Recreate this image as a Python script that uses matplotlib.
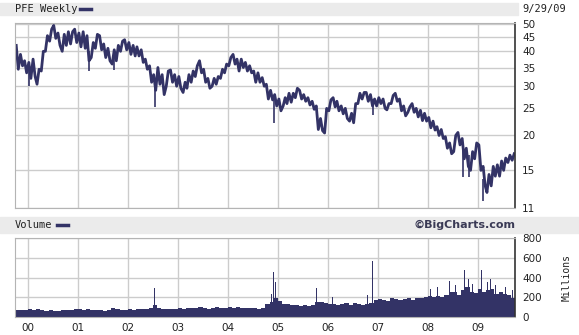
import pandas as pd
import matplotlib.pyplot as plt
from matplotlib.lines import Line2D
from matplotlib.patches import Rectangle

azul = '#333366'
grade = '#cccccc'

meses = pd.date_range('1999-10-01', periods=120, freq='MS')

preco_max = [42, 39, 37,
             36.5, 37.5, 34.5, 40, 45.5, 48, 49.5, 46.5, 46, 47, 47, 48,
             46.5, 47, 45.5, 43, 46, 45.5, 42.5, 41, 40.5, 42, 43.5, 44,
             43, 42, 41.5, 40.5, 37.5, 35.5, 33, 35, 33, 34, 34.3, 33,
             32.5, 31, 33, 34, 35.5, 37, 34.5, 32, 32, 32.5, 34.5, 36,
             38, 39, 37.5, 37.5, 36.5, 35.5, 34, 33.5, 32.2, 30.5, 29, 28,
             27, 27.3, 28.3, 28.3, 29.5, 29, 28, 27.3, 26.5, 25.5, 23, 25,
             26.8, 27.3, 26.5, 25.5, 25, 24, 26, 28.3, 28.5, 28.5, 28, 27,
             27.3, 27, 26, 27.8, 28.3, 27, 25.5, 25.3, 26, 25, 24.6, 24,
             23.2, 22.5, 21.5, 21, 19.8, 18.8, 20, 20.5, 19.5, 18, 17.5, 18.8,
             18.5, 15.5, 14.5, 15.5, 15.7, 16.2, 16.6, 17, 17.2]

preco_min = [34.5, 35.5, 33.5,
             32, 32.5, 30.5, 34, 40, 43.5, 44.5, 42, 40, 42, 42.5, 43,
             41.5, 41, 37, 38, 41, 40.5, 38, 37, 36, 37, 40, 40.5,
             39, 38.5, 38.5, 36.5, 34.5, 31, 29, 30.5, 28, 30, 31, 30,
             29.5, 28.5, 29.5, 31, 32.5, 33.5, 31, 29.5, 30, 30.5, 32, 33.5,
             35.5, 36, 34, 35, 34, 33.5, 31, 31, 30, 27, 26.8, 25.5,
             24.5, 25.5, 26, 26.3, 27.3, 27, 26.5, 25.7, 24.8, 21, 20.8, 20.4,
             24.5, 25.3, 24.5, 23.9, 23, 22.5, 22.2, 26, 27, 26.5, 25.5, 25.5,
             26, 25, 24.7, 26, 26.5, 24.5, 23.5, 24.2, 24.2, 23.3, 22.6, 22.5,
             21.3, 20.9, 20, 19.5, 18, 17.2, 17.5, 18.5, 16.5, 15.5, 15, 16.5,
             15, 13.2, 12.5, 13.2, 14.3, 14.3, 15, 16, 16.3]

# quedas rapidas que saem da faixa
pico_datas = pd.to_datetime(['2000-01-08', '2001-03-22', '2001-09-20', '2002-07-19',
                             '2004-12-02', '2006-11-24', '2008-09-15', '2008-10-27',
                             '2009-02-10'])
pico_de = [34, 40, 38, 31, 27, 27, 18, 17, 14]
pico_ate = [30, 34, 34.2, 25.3, 22.2, 23.6, 14.2, 14.2, 11.7]

# volume (milhoes), nivel tipico de cada mes
volume = [75, 70, 70,
          80, 75, 80, 70, 65, 70, 60, 65, 75, 70, 70, 80,
          80, 75, 85, 75, 70, 70, 65, 70, 90, 80, 75, 70,
          80, 75, 80, 85, 80, 90, 120, 90, 85, 85, 80, 80,
          90, 85, 95, 90, 95, 100, 90, 85, 95, 100, 95, 90,
          100, 95, 100, 95, 90, 90, 95, 85, 90, 130, 150, 190,
          160, 130, 130, 120, 120, 110, 120, 110, 120, 150, 150, 140,
          130, 130, 120, 130, 140, 120, 140, 130, 120, 130, 140, 170,
          180, 170, 160, 190, 180, 170, 180, 190, 170, 190, 190, 200,
          210, 200, 210, 200, 220, 250, 250, 220, 270, 300, 250, 240,
          280, 250, 270, 280, 230, 250, 230, 220, 190]

vol_pico_datas = pd.to_datetime(['2002-07-15', '2004-11-15', '2004-12-02', '2004-12-12',
                                 '2005-10-09', '2005-12-03', '2006-02-03', '2006-10-19',
                                 '2006-11-24', '2008-01-20', '2008-03-10', '2008-05-12',
                                 '2008-06-05', '2008-07-20', '2008-09-15', '2008-09-27',
                                 '2008-10-23', '2008-11-20', '2008-12-10', '2009-01-09',
                                 '2009-01-29', '2009-02-22', '2009-03-10', '2009-04-04',
                                 '2009-05-10', '2009-06-04', '2009-07-22', '2009-08-15',
                                 '2009-09-10'])
vol_pico = [298, 230, 460, 358, 297, 334, 205, 220, 567, 280, 300, 300,
            368, 320, 567, 473, 386, 330, 280, 577, 473, 386, 350, 386,
            320, 316, 300, 290, 270]

preco_ticks = [11, 15, 20, 25, 30, 35, 40, 45, 50]
vol_ticks = [0, 200, 400, 600, 800]
anos = pd.date_range('2000-01-01', periods=10, freq='YS')
anos_labels = ['00', '01', '02', '03', '04', '05', '06', '07', '08', '09']

inicio = pd.Timestamp('1999-09-29')
fim = pd.Timestamp('2009-09-29')

# caminho do preco: minimo e maximo de cada mes na ordem em que aconteceram
xs, ys = [], []
for i in range(len(meses)):
    a = max(i - 1, 0)
    b = min(i + 1, len(meses) - 1)
    subindo = (preco_max[b] + preco_min[b]) >= (preco_max[a] + preco_min[a])
    par = (preco_min[i], preco_max[i]) if subindo else (preco_max[i], preco_min[i])
    xs += [meses[i] + pd.Timedelta(days=7), meses[i] + pd.Timedelta(days=22)]
    ys += list(par)

fig = plt.figure(figsize=(5.79, 3.35), dpi=100)
fig.add_artist(Rectangle((0, 0.9552), 0.895, 0.0358, transform=fig.transFigure,
                         color='#ebebeb', zorder=0))
fig.add_artist(Rectangle((0, 0.3045), 1, 0.0477, transform=fig.transFigure,
                         color='#ebebeb', zorder=0))

ax = fig.add_axes([0.0259, 0.3791, 0.8636, 0.5522])
ax2 = fig.add_axes([0.0259, 0.0537, 0.8636, 0.2358])

ax.plot(xs, ys, color=azul, lw=2.0)
ax.vlines(pico_datas, pico_ate, pico_de, color=azul, lw=1.2)
ax.set_yscale('log')
ax.set_ylim(11, 50.5)
ax.set_yticks(preco_ticks)
ax.set_yticklabels([str(t) for t in preco_ticks])
ax.minorticks_off()

ax2.bar(meses + pd.Timedelta(days=15), volume, width=31, color=azul, lw=0)
ax2.bar(vol_pico_datas, vol_pico, width=5, color=azul, lw=0)
ax2.set_ylim(0, 800)
ax2.set_yticks(vol_ticks)
ax2.set_yticklabels([str(t) for t in vol_ticks])

for a in (ax, ax2):
    a.set_xlim(inicio, fim)
    a.set_xticks(anos)
    a.grid(True, color=grade, lw=1)
    a.set_axisbelow(True)
    a.yaxis.tick_right()
    a.tick_params(length=0, pad=5, labelsize=7.5, colors='#222222')
    for s in ('left', 'top', 'bottom'):
        a.spines[s].set_color('#b4b4b4')
    a.spines['right'].set_color('#333333')
    a.spines['right'].set_linewidth(1.2)

ax.set_xticklabels([])
ax2.set_xticklabels(anos_labels)
ax2.tick_params(axis='x', pad=4)

fonte = 'DejaVu Sans Mono'
fig.text(0.026, 0.973, 'PFE Weekly', family=fonte, size=7.5, va='center', color='#222222')
fig.add_artist(Line2D([0.138, 0.157], [0.973, 0.973], transform=fig.transFigure,
                      color=azul, lw=2.5))
fig.text(0.903, 0.973, '9/29/09', family=fonte, size=7.5, va='center', color='#222222')
fig.text(0.026, 0.3284, 'Volume', family=fonte, size=7.5, va='center', color='#222222')
fig.add_artist(Line2D([0.098, 0.117], [0.3284, 0.3284], transform=fig.transFigure,
                      color=azul, lw=2.5))
fig.text(0.8895, 0.3284, '\u00a9BigCharts.com', size=8, weight='bold', ha='right',
         va='center', color='#3a3a55')
fig.text(0.979, 0.173, 'Millions', family=fonte, size=7, rotation=90, ha='center',
         va='center', color='#222222')

fig.savefig('out.png', dpi=100)
